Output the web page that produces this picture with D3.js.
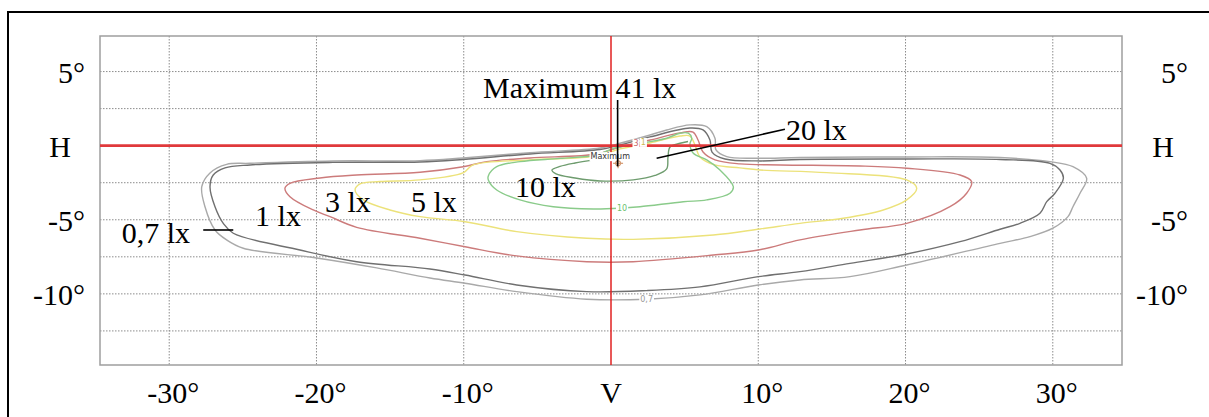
<!DOCTYPE html>
<html>
<head>
<meta charset="utf-8">
<script src="https://cdn.jsdelivr.net/npm/d3@7.9.0/dist/d3.min.js"></script>
<style>
  html, body { margin: 0; padding: 0; background: #fff; }
  svg { display: block; }
  .lbl { font-family: "Times New Roman", "Liberation Serif", serif; font-size: 30px; fill: #000; }
  .small { font-family: "DejaVu Sans", Arial, sans-serif; font-size: 8px; }
</style>
</head>
<body>
<svg id="chart" width="1209" height="417"></svg>
<script>
// axis ticks and labels
const xTicks = [-30, -20, -10, 0, 10, 20, 30];
const xTickLabels = ['-30°', '-20°', '-10°', 'V', '10°', '20°', '30°'];
const yTicks = [5, 0, -5, -10];
const yTickLabels = ['5°', 'H', '-5°', '-10°'];
const yGrid = [5, 2.5, 0, -2.5, -5, -7.5, -10, -12.5];

// isolux lines, [horizontal deg, vertical deg]
const iso07 = [[-27.79,-2.77],[-27.23,-1.84],[-26.10,-1.26],[-24.51,-1.19],[-18.88,-1.03],[-12.97,-1.01],
  [-10.05,-0.83],[-5.50,-0.47],[-0.75,-0.16],[0.61,0.16],[2.65,0.72],[3.78,1.06],[5.36,1.40],[6.50,1.28],
  [7.06,0.50],[7.13,-0.29],[7.86,-0.74],[9.89,-0.85],[12.83,-0.80],[20.08,-0.76],[26.42,-0.80],[29.81,-1.08],
  [31.37,-1.42],[32.30,-2.20],[31.85,-3.21],[31.37,-4.12],[31.03,-4.79],[30.01,-5.57],[28.45,-6.14],
  [26.42,-6.59],[20.08,-8.05],[16.23,-8.84],[12.83,-9.06],[10.00,-9.40],[6.04,-10.07],[2.42,-10.36],
  [-1.65,-10.36],[-6.40,-9.85],[-9.91,-9.28],[-12.29,-8.93],[-15.91,-8.25],[-19.99,-7.58],[-24.97,-6.92],
  [-26.10,-6.36],[-26.89,-5.69],[-27.57,-4.12]];
const iso1 = [[-27.23,-2.77],[-27.01,-1.98],[-26.21,-1.50],[-24.51,-1.30],[-18.88,-1.13],[-12.97,-1.10],
  [-10.05,-0.93],[-5.50,-0.56],[-0.75,-0.26],[0.61,0.05],[2.65,0.59],[5.36,1.19],[6.25,1.06],[6.72,0.38],
  [6.86,-0.43],[7.74,-0.90],[10.12,-1.03],[12.83,-0.93],[20.08,-0.90],[26.42,-0.93],[29.81,-1.19],
  [30.49,-1.64],[30.72,-2.20],[30.15,-3.21],[29.59,-3.78],[29.13,-4.56],[27.77,-5.24],[26.42,-5.64],
  [23.70,-6.48],[20.08,-7.31],[16.23,-7.94],[12.83,-8.50],[10.00,-8.84],[6.04,-9.53],[2.42,-9.78],
  [-1.65,-9.85],[-6.40,-9.40],[-9.91,-8.73],[-12.29,-8.32],[-17.27,-7.83],[-21.12,-7.04],[-25.65,-5.91],
  [-26.33,-5.24],[-26.89,-4.12]];
const iso3 = [[-22.14,-2.87],[-21.80,-2.54],[-19.76,-2.18],[-17.27,-1.98],[-12.97,-1.79],[-10.03,-1.42],
  [-8.44,-1.08],[-5.50,-0.83],[-0.97,-0.56],[0.61,-0.09],[2.65,0.38],[4.69,0.86],[5.57,0.92],[5.91,0.38],
  [6.25,-0.43],[7.06,-0.96],[8.76,-1.23],[11.48,-1.30],[16.91,-1.37],[20.08,-1.52],[23.70,-1.98],
  [24.49,-2.43],[24.15,-3.21],[23.02,-4.12],[20.08,-5.24],[16.91,-5.69],[12.83,-6.36],[10.00,-7.04],
  [6.95,-7.38],[1.51,-7.83],[-1.65,-7.83],[-6.40,-7.44],[-9.91,-6.82],[-12.97,-6.25],[-17.27,-5.51],
  [-19.08,-4.79],[-20.22,-4.34],[-21.80,-3.44]];
const iso5 = [[-17.38,-2.99],[-17.04,-2.58],[-15.69,-2.42],[-12.97,-2.31],[-10.05,-1.84],[-9.37,-1.30],
  [-5.50,-0.96],[-0.97,-0.70],[0.61,-0.22],[2.65,0.18],[4.69,0.65],[5.36,0.65],[5.70,0.05],[6.04,-0.76],
  [7.06,-1.30],[8.76,-1.50],[10.12,-1.64],[14.65,-1.82],[20.08,-2.31],[20.76,-2.87],[20.08,-3.66],
  [18.49,-4.34],[15.77,-4.90],[12.83,-5.24],[10.12,-5.62],[6.95,-6.03],[1.51,-6.32],[-1.65,-6.25],
  [-6.40,-5.80],[-9.91,-5.13],[-12.97,-4.79],[-15.01,-4.34],[-16.82,-3.66]];
const iso10 = [[-8.33,-2.04],[-7.76,-1.42],[-6.18,-1.08],[-3.46,-0.86],[-0.97,-0.63],[0.16,-0.18],
  [1.51,0.05],[2.65,0.27],[3.78,0.50],[4.69,0.84],[5.25,0.84],[5.48,0.50],[5.36,0.11],[5.59,-0.51],
  [6.50,-0.96],[7.40,-1.64],[8.31,-2.77],[8.08,-3.21],[6.50,-3.66],[4.91,-3.78],[1.97,-4.12],[0.61,-4.22],
  [-1.20,-4.27],[-3.92,-4.12],[-6.18,-3.66],[-7.76,-2.99],[-8.33,-2.31]];
const iso20 = [[-0.07,-0.80],[-0.97,-0.93],[-2.44,-1.17],[-3.46,-1.40],[-4.01,-1.64],[-3.73,-1.91],
  [-2.44,-2.18],[-0.75,-2.38],[1.51,-2.31],[2.99,-2.01],[3.78,-1.57],[3.87,-0.76],[4.01,-0.09],
  [4.69,0.16],[5.23,0.28]];

const levels = ['0,7', '1', '3', '5', '10', '20'];
const isolines = [iso07, iso1, iso3, iso5, iso10, iso20];
const lineColors = ['#a9a9a9', '#707070', '#cc7b7b', '#ece27a', '#8acb8a', '#6e9c6e'];
const closedLine = [true, true, true, true, true, false];

const maxPoint = [0.48, -1.19];
const maxValue = 41;

const width = 1209, height = 417;
const margin = { top: 36, right: 87, bottom: 52, left: 100 };

const svg = d3.select('#chart');

const x = d3.scaleLinear().domain([-34.7, 34.7]).range([margin.left, width - margin.right]);
const y = d3.scaleLinear().domain([-14.8, 7.4]).range([height - margin.bottom, margin.top]);

// outer frame
svg.append('rect')
  .attr('x', 8).attr('y', 12)
  .attr('width', width + 20).attr('height', height + 20)
  .attr('fill', 'none').attr('stroke', '#000').attr('stroke-width', 2);

// grid
const grid = svg.append('g').attr('stroke', '#8c8c8c').attr('stroke-width', 1).attr('stroke-dasharray', '1.5,1.5');
grid.selectAll('.vg').data(xTicks.filter(d => d !== 0)).join('line')
  .attr('x1', d => x(d)).attr('x2', d => x(d))
  .attr('y1', y.range()[1]).attr('y2', y.range()[0]);
grid.selectAll('.hg').data(yGrid.filter(d => d !== 0)).join('line')
  .attr('x1', x.range()[0]).attr('x2', x.range()[1])
  .attr('y1', d => y(d)).attr('y2', d => y(d));

// plot border
svg.append('rect')
  .attr('x', x.range()[0]).attr('y', y.range()[1])
  .attr('width', x.range()[1] - x.range()[0]).attr('height', y.range()[0] - y.range()[1])
  .attr('fill', 'none').attr('stroke', '#9e9e9e').attr('stroke-width', 1.5);

// isolux lines
const lineClosed = d3.line().x(d => x(d[0])).y(d => y(d[1])).curve(d3.curveCatmullRomClosed.alpha(0.5));
const lineOpen = d3.line().x(d => x(d[0])).y(d => y(d[1])).curve(d3.curveCatmullRom.alpha(0.5));
isolines.forEach((pts, i) => {
  svg.append('path')
    .attr('d', closedLine[i] ? lineClosed(pts) : lineOpen(pts))
    .attr('fill', 'none')
    .attr('stroke', lineColors[i])
    .attr('stroke-width', 1.4);
});

// H and V lines
svg.append('line')
  .attr('x1', x.range()[0]).attr('x2', x.range()[1])
  .attr('y1', y(0)).attr('y2', y(0))
  .attr('stroke', '#e0393b').attr('stroke-width', 2.6);
svg.append('line')
  .attr('x1', x(0)).attr('x2', x(0))
  .attr('y1', y.range()[1]).attr('y2', y.range()[0])
  .attr('stroke', '#e02020').attr('stroke-width', 1.5);

// small in-line labels
function smallLabel(txt, px, py, color) {
  const t = svg.append('text').attr('class', 'small')
    .attr('x', px).attr('y', py).attr('text-anchor', 'middle').attr('dy', '0.35em')
    .attr('fill', color).text(txt);
  const b = t.node().getBBox();
  svg.insert('rect', function () { return t.node(); })
    .attr('x', b.x - 1).attr('y', b.y).attr('width', b.width + 2).attr('height', b.height)
    .attr('fill', '#fff');
}
smallLabel(levels[0], x(2.42), y(-10.36), '#999');
smallLabel(levels[4], x(0.75), y(-4.25), '#6cbf6c');
smallLabel('3', x(1.7), y(0.18), '#c86a6a');
smallLabel('1', x(2.2), y(0.24), '#c8b850');
smallLabel('Maximum', x(-0.05), y(-0.72), '#333');

// maximum marker
const mk = svg.append('g').attr('transform', `translate(${x(maxPoint[0])},${y(maxPoint[1])})`)
  .attr('stroke', '#d49a70').attr('stroke-width', 1.2).attr('fill', 'none');
mk.append('circle').attr('r', 2.5);
mk.append('line').attr('x1', -5).attr('x2', 5);
mk.append('line').attr('y1', -5).attr('y2', 5);

// tick labels
svg.selectAll('.xl').data(xTicks).join('text')
  .attr('class', 'lbl')
  .attr('x', d => x(d) + (d === 0 ? 0 : 4)).attr('y', 403)
  .attr('text-anchor', 'middle')
  .text((d, i) => xTickLabels[i]);
svg.selectAll('.yl').data(yTicks).join('text')
  .attr('class', 'lbl')
  .attr('x', d => d === 0 ? 60 : 85).attr('y', d => y(d) + 11)
  .attr('text-anchor', d => d === 0 ? 'middle' : 'end')
  .text((d, i) => yTickLabels[i]);
svg.selectAll('.yr').data(yTicks).join('text')
  .attr('class', 'lbl')
  .attr('x', d => d === 0 ? 1163 : 1188).attr('y', d => y(d) + 11)
  .attr('text-anchor', d => d === 0 ? 'middle' : 'end')
  .text((d, i) => yTickLabels[i]);

// callouts
const callouts = [
  { text: `Maximum ${maxValue} lx`, at: [-8.69, 3.22], from: [0.45, 3.08], to: [0.45, -1.4] },
  { text: `${levels[5]} lx`, at: [11.88, 0.38], from: [11.81, 1.11], to: [3.10, -0.85] },
  { text: `${levels[4]} lx`, at: [-6.52, -3.44] },
  { text: `${levels[3]} lx`, at: [-13.58, -4.45] },
  { text: `${levels[2]} lx`, at: [-19.42, -4.45] },
  { text: `${levels[1]} lx`, at: [-24.17, -5.42] },
  { text: `${levels[0]} lx`, at: [-33.23, -6.59], from: [-27.69, -5.69], to: [-25.65, -5.69] }
];
callouts.forEach(c => {
  if (c.from) {
    svg.append('line')
      .attr('x1', x(c.from[0])).attr('y1', y(c.from[1]))
      .attr('x2', x(c.to[0])).attr('y2', y(c.to[1]))
      .attr('stroke', '#000').attr('stroke-width', 1.6);
  }
  svg.append('text').attr('class', 'lbl')
    .attr('x', x(c.at[0])).attr('y', y(c.at[1]))
    .text(c.text);
});
</script>
</body>
</html>
